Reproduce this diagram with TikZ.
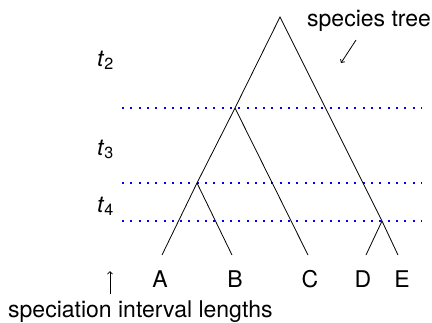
\documentclass[tikz,border=0pt]{standalone}
\usepackage{fontspec}
\setmainfont{TeX Gyre Heros}
\usetikzlibrary{arrows.meta,positioning}

\begin{document}
\begin{tikzpicture}[
    x=1pt,y=-1pt,
    font=\fontsize{23}{27}\selectfont,
    branch/.style={line width=0.8pt},
    level/.style={blue,line width=2pt,dash pattern=on 2pt off 6.3pt},
    tip/.style={inner sep=0pt,text height=16pt,text depth=0pt},
    pointer/.style={line width=0.8pt,-{Straight Barb[length=2.5pt,width=5pt]}}
]
\useasboundingbox (0,0) rectangle (432,322);
% speciation levels
\foreach \y in {108,183,221} \draw[level] (122,\y) -- (422,\y);
% species tree
\coordinate (root) at (280,17);
\coordinate (n1) at (235,108);
\coordinate (n2) at (197,183);
\coordinate (n3) at (382,221);
\coordinate (lA) at (162,255);
\coordinate (lB) at (232,255);
\coordinate (lC) at (308,255);
\coordinate (lD) at (366,255);
\coordinate (lE) at (398,255);
\draw[branch] (lA) -- (n2) -- (n1) -- (root) -- (n3) -- (lE);
\draw[branch] (n2) -- (lB);
\draw[branch] (n1) -- (lC);
\draw[branch] (n3) -- (lD);
\node[tip,below=16pt of lA,xshift=-2pt] (A) {A};
\node[tip,below=16pt of lB,xshift=3pt] (B) {B};
\node[tip,below=16pt of lC,xshift=2pt] (C) {C};
\node[tip,below=16pt of lD,xshift=-3pt] (D) {D};
\node[tip,below=16pt of lE,xshift=4pt] (E) {E};
% interval labels
\node[anchor=base west,inner sep=0pt] (t2) at (97,66) {\textit{t}\textsubscript{2}};
\node[anchor=base west,inner sep=0pt] (t3) at (97,155) {\textit{t}\textsubscript{3}};
\node[anchor=base west,inner sep=0pt] (t4) at (97,212) {\textit{t}\textsubscript{4}};
% captions
\node[anchor=base west,inner sep=0pt] (sptree) at (307,26) {species tree};
\coordinate (swtail) at (356,40);
\coordinate (swhead) at (341,63);
\draw[pointer] (swtail) -- (swhead);
\node[anchor=base west,inner sep=0pt] (interval) at (8,317) {speciation interval lengths};
\coordinate (uptail) at (110,294);
\coordinate (uphead) at (110,271);
\draw[pointer] (uptail) -- (uphead);
\end{tikzpicture}
\end{document}
